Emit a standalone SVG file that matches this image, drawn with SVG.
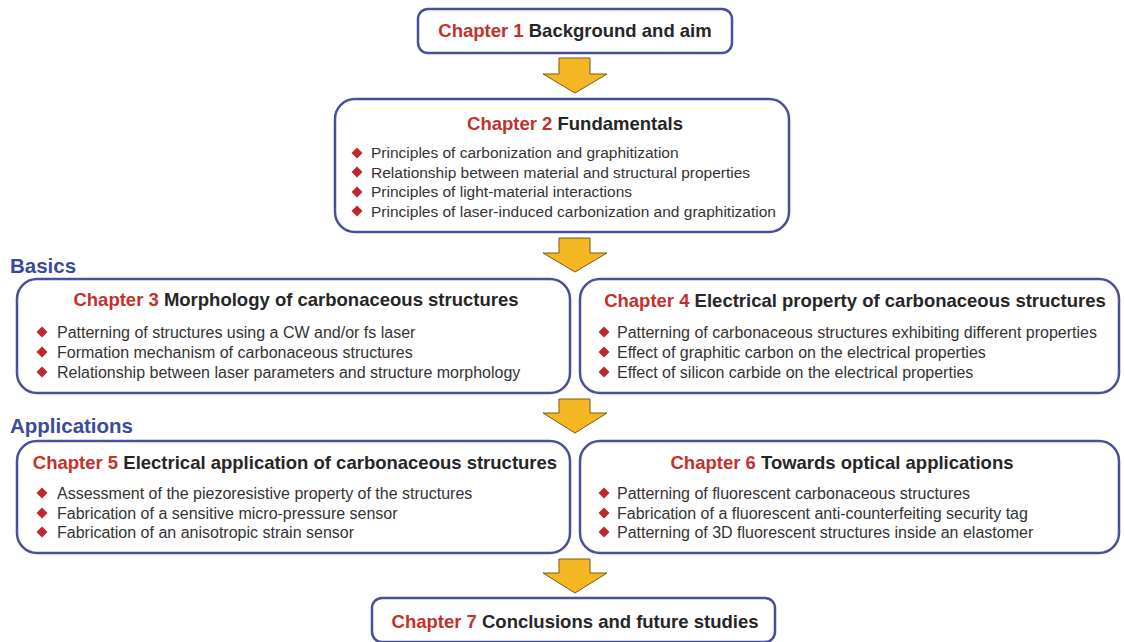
<svg xmlns="http://www.w3.org/2000/svg" width="1124" height="642" viewBox="0 0 1124 642">
<defs>
<style>
.box{fill:#fff;stroke:#4a4f9c;stroke-width:2.5}
.arr{fill:#f4b622;stroke:#7a5a10;stroke-width:1}
.t{font-family:"Liberation Sans",Arial,sans-serif;font-weight:bold;font-size:18.5px;fill:#262626}
.ch{fill:#c4302b}
.b{font-family:"Liberation Sans",Arial,sans-serif;font-size:16px;fill:#333}
.b2{font-family:"Liberation Sans",Arial,sans-serif;font-size:15.5px;fill:#333}
.sec{font-family:"Liberation Sans",Arial,sans-serif;font-weight:bold;font-size:20.5px;fill:#3b4a9c}
.d{fill:#c0262c}
</style>
<path id="dm" d="M0,-5.5 L5.5,0 L0,5.5 L-5.5,0Z"/>
</defs>
<rect width="1124" height="642" fill="#fff"/>

<text class="sec" x="10" y="273">Basics</text>
<text class="sec" x="10" y="433">Applications</text>

<g id="ch1">
<rect class="box" x="418" y="9" width="314" height="44" rx="10"/>
<text class="t" x="575" y="37" text-anchor="middle"><tspan class="ch">Chapter 1</tspan> Background and aim</text>
</g>

<g id="ch2">
<rect class="box" x="335" y="99" width="454" height="133" rx="20"/>
<text class="t" x="575" y="130" text-anchor="middle"><tspan class="ch">Chapter 2</tspan> Fundamentals</text>
<use href="#dm" class="d" x="357" y="153"/><text class="b2" x="371" y="158">Principles of carbonization and graphitization</text>
<use href="#dm" class="d" x="357" y="172"/><text class="b2" x="371" y="177.5">Relationship between material and structural properties</text>
<use href="#dm" class="d" x="357" y="192"/><text class="b2" x="371" y="197">Principles of light-material interactions</text>
<use href="#dm" class="d" x="357" y="211"/><text class="b2" x="371" y="216.5">Principles of laser-induced carbonization and graphitization</text>
</g>

<g id="ch3">
<rect class="box" x="17" y="279" width="553" height="114" rx="20"/>
<text class="t" x="296" y="306" text-anchor="middle"><tspan class="ch">Chapter 3</tspan> Morphology of carbonaceous structures</text>
<use href="#dm" class="d" x="42" y="332"/><text class="b" x="57" y="337.5">Patterning of structures using a CW and/or fs laser</text>
<use href="#dm" class="d" x="42" y="352"/><text class="b" x="57" y="357.5">Formation mechanism of carbonaceous structures</text>
<use href="#dm" class="d" x="42" y="372"/><text class="b" x="57" y="377.5">Relationship between laser parameters and structure morphology</text>
</g>

<g id="ch4">
<rect class="box" x="580" y="279" width="539" height="114" rx="20"/>
<text class="t" x="855" y="307" text-anchor="middle"><tspan class="ch">Chapter 4</tspan> Electrical property of carbonaceous structures</text>
<use href="#dm" class="d" x="604" y="332"/><text class="b" x="617" y="337.5">Patterning of carbonaceous structures exhibiting different properties</text>
<use href="#dm" class="d" x="604" y="352"/><text class="b" x="617" y="357.5">Effect of graphitic carbon on the electrical properties</text>
<use href="#dm" class="d" x="604" y="372"/><text class="b" x="617" y="377.5">Effect of silicon carbide on the electrical properties</text>
</g>

<g id="ch5">
<rect class="box" x="17" y="441" width="553" height="112" rx="20"/>
<text class="t" x="295" y="469" text-anchor="middle"><tspan class="ch">Chapter 5</tspan> Electrical application of carbonaceous structures</text>
<use href="#dm" class="d" x="42" y="493"/><text class="b" x="57" y="498.5">Assessment of the piezoresistive property of the structures</text>
<use href="#dm" class="d" x="42" y="513"/><text class="b" x="57" y="518.5">Fabrication of a sensitive micro-pressure sensor</text>
<use href="#dm" class="d" x="42" y="532"/><text class="b" x="57" y="537.5">Fabrication of an anisotropic strain sensor</text>
</g>

<g id="ch6">
<rect class="box" x="580" y="441" width="539" height="112" rx="20"/>
<text class="t" x="842" y="469" text-anchor="middle"><tspan class="ch">Chapter 6</tspan> Towards optical applications</text>
<use href="#dm" class="d" x="604" y="493"/><text class="b" x="617" y="498.5">Patterning of fluorescent carbonaceous structures</text>
<use href="#dm" class="d" x="604" y="513"/><text class="b" x="617" y="518.5">Fabrication of a fluorescent anti-counterfeiting security tag</text>
<use href="#dm" class="d" x="604" y="532"/><text class="b" x="617" y="537.5">Patterning of 3D fluorescent structures inside an elastomer</text>
</g>

<g id="ch7">
<rect class="box" x="372" y="598" width="403" height="44" rx="10"/>
<text class="t" x="575" y="628" text-anchor="middle"><tspan class="ch">Chapter 7</tspan> Conclusions and future studies</text>
</g>

<g id="connectors">
<polygon class="arr" points="559,58 590,58 590,74 607,74 575,93 543,74 559,74"/>
<polygon class="arr" points="559,238 590,238 590,253 607,253 575,272 543,253 559,253"/>
<polygon class="arr" points="559,399 590,399 590,413 607,413 575,433 543,413 559,413"/>
<polygon class="arr" points="559,559 590,559 590,573 607,573 575,593 543,573 559,573"/>
</g>
</svg>
